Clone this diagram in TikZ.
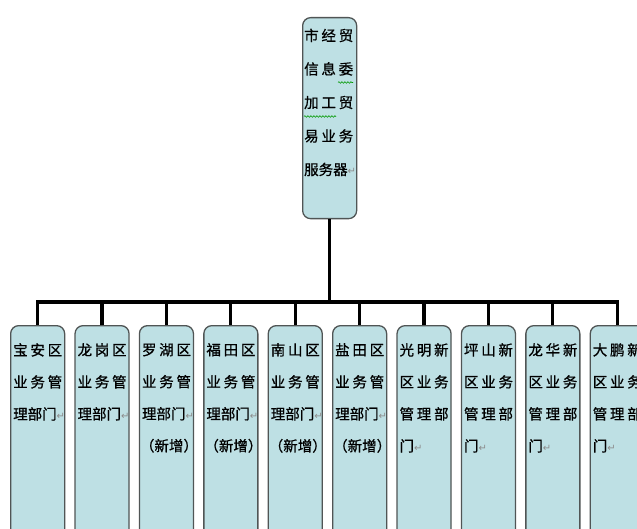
\documentclass[tikz,border=0pt]{standalone}
\usepackage{fontspec}
\newfontfamily\cjk[FakeBold=0.8]{Noto Sans CJK SC}
\newfontfamily\symf{DejaVu Sans}
\usetikzlibrary{decorations.pathmorphing}
\definecolor{boxfill}{RGB}{190,224,228}
\definecolor{boxline}{RGB}{80,85,85}
\newcommand\tri[3]{\makebox[49pt][s]{#1\hfill#2\hfill#3}}
\newcommand\retm{{\symf\fontsize{10}{10}\selectfont\color{black!45}↵}}
\newcommand\xinz{\hspace*{-2pt}（新增）}
\begin{document}
\begin{tikzpicture}[x=1pt,y=-1pt,
  bbox/.style={draw=boxline,line width=1.3pt,fill=boxfill,rounded corners=8pt,
    minimum width=54pt,inner sep=0pt,anchor=north west},
  txt/.style={inner sep=0pt,anchor=north west,align=left,
    font=\cjk\fontsize{14.5}{32}\selectfont},
  toptxt/.style={txt,font=\cjk\fontsize{14.5}{33.5}\selectfont},
  conn/.style={line width=3.2pt,black},
  squig/.style={draw=green!60!black,line width=0.6pt,
    decorate,decoration={snake,amplitude=0.8pt,segment length=3pt}}]
\useasboundingbox (0,0) rectangle (637,529);
\clip (0,0) rectangle (637,529);
\fill[white] (0,0) rectangle (637,529);
% top box
\node[bbox,minimum height=201pt] (top) at (302,17) {};
\node[toptxt] (ttop) at ([xshift=2pt,yshift=-11.5pt]top.north west)
  {\tri{市}{经}{贸}\\\tri{信}{息}{委}\\\tri{加}{工}{贸}\\\tri{易}{业}{务}\\服务器\retm};
% bottom boxes
\foreach \i in {1,...,10}{
  \node[bbox,minimum height=230pt] (b\i) at ({10+64.4*(\i-1)},325) {};
}
\coordinate (bus) at (top.south |- 0,302);
\draw[conn] (top.south) -- (bus);
\draw[conn,line cap=rect] (b1.north |- bus) -- (b10.north |- bus);
\foreach \i in {1,...,10}{
  \draw[conn] (b\i.north |- bus) -- (b\i.north);
}
% texts
\node[txt] (t1) at ([xshift=3pt,yshift=-18pt]b1.north west) {\tri{宝}{安}{区}\\\tri{业}{务}{管}\\理部门\retm};
\node[txt] (t2) at ([xshift=3pt,yshift=-18pt]b2.north west) {\tri{龙}{岗}{区}\\\tri{业}{务}{管}\\理部门\retm};
\node[txt] (t3) at ([xshift=3pt,yshift=-18pt]b3.north west) {\tri{罗}{湖}{区}\\\tri{业}{务}{管}\\理部门\retm\\\xinz};
\node[txt] (t4) at ([xshift=3pt,yshift=-18pt]b4.north west) {\tri{福}{田}{区}\\\tri{业}{务}{管}\\理部门\retm\\\xinz};
\node[txt] (t5) at ([xshift=3pt,yshift=-18pt]b5.north west) {\tri{南}{山}{区}\\\tri{业}{务}{管}\\理部门\retm\\\xinz};
\node[txt] (t6) at ([xshift=3pt,yshift=-18pt]b6.north west) {\tri{盐}{田}{区}\\\tri{业}{务}{管}\\理部门\retm\\\xinz};
\node[txt] (t7) at ([xshift=3pt,yshift=-18pt]b7.north west) {\tri{光}{明}{新}\\\tri{区}{业}{务}\\\tri{管}{理}{部}\\门\retm};
\node[txt] (t8) at ([xshift=3pt,yshift=-18pt]b8.north west) {\tri{坪}{山}{新}\\\tri{区}{业}{务}\\\tri{管}{理}{部}\\门\retm};
\node[txt] (t9) at ([xshift=3pt,yshift=-18pt]b9.north west) {\tri{龙}{华}{新}\\\tri{区}{业}{务}\\\tri{管}{理}{部}\\门\retm};
\node[txt] (t10) at ([xshift=3pt,yshift=-18pt]b10.north west) {\tri{大}{鹏}{新}\\\tri{区}{业}{务}\\\tri{管}{理}{部}\\门\retm};
% grammar squiggles
\draw[squig] ([xshift=34pt,yshift=-54pt]ttop.north west) -- ++(15,0);
\draw[squig] ([xshift=0pt,yshift=-88pt]ttop.north west) -- ++(32,0);
\end{tikzpicture}
\end{document}
